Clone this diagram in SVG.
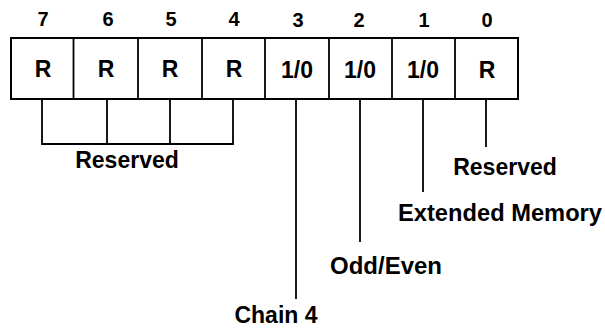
<svg xmlns="http://www.w3.org/2000/svg" width="605" height="330" viewBox="0 0 605 330">
<style>
  .box{fill:#fff;stroke:#000;stroke-width:2}
  .ln{fill:none;stroke:#000;stroke-width:1.8}
  text{font-family:"Liberation Sans",Arial,sans-serif;font-weight:bold;fill:#000;text-anchor:middle}
  .bit{font-size:20px}
  .val{font-size:23px}
  .lbl{font-size:23px}
</style>
<rect width="605" height="330" fill="#fff"/>
<g id="bitnumbers">
  <text class="bit" x="43" y="26">7</text>
  <text class="bit" x="108" y="26">6</text>
  <text class="bit" x="171" y="26">5</text>
  <text class="bit" x="234" y="26">4</text>
  <text class="bit" x="298" y="27">3</text>
  <text class="bit" x="359" y="27">2</text>
  <text class="bit" x="424" y="27">1</text>
  <text class="bit" x="487" y="27">0</text>
</g>
<g id="register">
  <rect class="box" x="11" y="38" width="507" height="61"/>
  <line class="ln" x1="73.5" y1="38" x2="73.5" y2="99"/>
  <line class="ln" x1="138" y1="38" x2="138" y2="99"/>
  <line class="ln" x1="202" y1="38" x2="202" y2="99"/>
  <line class="ln" x1="265" y1="38" x2="265" y2="99"/>
  <line class="ln" x1="329" y1="38" x2="329" y2="99"/>
  <line class="ln" x1="392" y1="38" x2="392" y2="99"/>
  <line class="ln" x1="455" y1="38" x2="455" y2="99"/>
  <text class="val" x="43" y="77">R</text>
  <text class="val" x="106" y="77">R</text>
  <text class="val" x="170" y="77">R</text>
  <text class="val" x="234" y="77">R</text>
  <text class="val" x="297" y="78">1/0</text>
  <text class="val" x="360" y="78">1/0</text>
  <text class="val" x="423" y="78">1/0</text>
  <text class="val" x="487" y="78">R</text>
</g>
<g id="connectors">
  <path class="ln" d="M42,99 V144 H233 V99 M107,99 V144 M170,99 V144"/>
  <line class="ln" x1="296" y1="99" x2="296" y2="299"/>
  <line class="ln" x1="360" y1="99" x2="360" y2="242"/>
  <line class="ln" x1="423" y1="99" x2="423" y2="192"/>
  <line class="ln" x1="486" y1="99" x2="486" y2="147"/>
</g>
<g id="label-reserved-high">
  <text class="lbl" x="127" y="168">Reserved</text>
</g>
<g id="label-reserved-bit0">
  <text class="lbl" x="505" y="175">Reserved</text>
</g>
<g id="label-extended-memory">
  <text class="lbl" x="500" y="221" textLength="204" lengthAdjust="spacingAndGlyphs">Extended Memory</text>
</g>
<g id="label-odd-even">
  <text class="lbl" x="386" y="274" textLength="112" lengthAdjust="spacingAndGlyphs">Odd/Even</text>
</g>
<g id="label-chain4">
  <text class="lbl" x="276" y="323">Chain 4</text>
</g>
</svg>
